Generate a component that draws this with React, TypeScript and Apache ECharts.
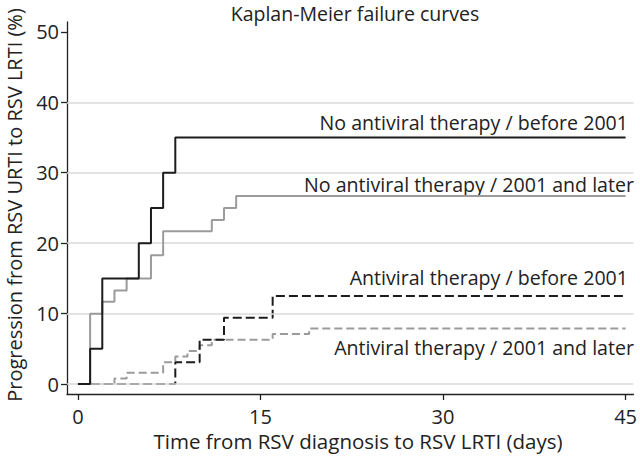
import React, { useEffect, useRef } from "react";
import * as echarts from "echarts";

// Kaplan-Meier step data (days, cumulative % progressed)
const noAvBeforeDays = [0, 1, 2, 5, 6, 7, 8, 45];
const noAvBeforePct = [0, 5, 15, 20, 25, 30, 35, 35];

const noAvLaterDays = [0, 1, 2, 3, 4, 6, 7, 11, 12, 13, 45];
const noAvLaterPct = [0, 10, 11.7, 13.3, 15, 18.3, 21.7, 23.3, 25, 26.7, 26.7];

const avBeforeDays = [0, 8, 10, 12, 16, 45];
const avBeforePct = [0, 3.1, 6.3, 9.4, 12.5, 12.5];

const avLaterDays = [0, 3, 4, 7, 8, 9, 10, 11, 16, 19, 45];
const avLaterPct = [0, 0.8, 1.6, 3.1, 3.9, 4.7, 5.5, 6.3, 7.1, 7.9, 7.9];

const xTicks = [0, 15, 30, 45];
const yTicks = [0, 10, 20, 30, 40, 50];
const gridValues = [0, 10, 20, 30, 40];

const seriesLabels = [
  "No antiviral therapy / before 2001",
  "No antiviral therapy / 2001 and later",
  "Antiviral therapy / before 2001",
  "Antiviral therapy / 2001 and later",
];

const titleText = "Kaplan-Meier failure curves";
const xTitle = "Time from RSV diagnosis to RSV LRTI (days)";
const yTitle = "Progression from RSV URTI to RSV LRTI (%)";

const FONT = "Open Sans";
const TXT = "#222222";

function zip(xs: number[], ys: number[]) {
  return xs.map((x, i) => [x, ys[i]]);
}

export default function App() {
  const ref = useRef<HTMLDivElement>(null);
  useEffect(() => {
    if (!ref.current) return;
    const chart = echarts.init(ref.current, undefined, { renderer: "svg" });
    const black = "#1c1c1c";
    const gray = "#9b9b9b";
    const lab = (text: string, x: number, y: number) => ({
      type: "text",
      x,
      y,
      style: { text, fontSize: 19.6, fontFamily: FONT, fill: TXT, align: "right", verticalAlign: "middle" },
    });
    const option: any = {
      animation: false,
      backgroundColor: "#ffffff",
      textStyle: { fontFamily: FONT },
      grid: { left: 67, right: 4, top: 22, bottom: 69, containLabel: false },
      xAxis: {
        type: "value",
        min: -0.9,
        max: 45.65,
        axisLine: { show: true, onZero: false, lineStyle: { color: "#222", width: 1.3 } },
        axisTick: { show: true, length: 6, customValues: xTicks, lineStyle: { color: "#222", width: 1.3 } },
        axisLabel: { customValues: xTicks, fontSize: 20, color: TXT, fontFamily: FONT, margin: 12 },
        splitLine: { show: false },
      },
      yAxis: {
        type: "value",
        min: -1.41,
        max: 51.4,
        axisLine: { show: true, onZero: false, lineStyle: { color: "#222", width: 1.3 } },
        axisTick: { show: true, length: 6, customValues: yTicks, lineStyle: { color: "#222", width: 1.3 } },
        axisLabel: { customValues: yTicks, fontSize: 20, color: TXT, fontFamily: FONT, margin: 8 },
        splitLine: { show: false },
      },
      series: [
        {
          type: "line",
          z: 1,
          data: [[0, 0]],
          symbol: "none",
          lineStyle: { opacity: 0 },
          silent: true,
          markLine: {
            silent: true,
            symbol: "none",
            label: { show: false },
            lineStyle: { color: "#dadada", width: 1.5, type: "solid" },
            data: gridValues.map((v) => ({ yAxis: v })),
          },
        },
        {
          type: "line",
          step: "end",
          z: 3,
          data: zip(avLaterDays, avLaterPct),
          symbol: "none",
          lineStyle: { color: gray, width: 2, type: [8, 4] },
        },
        {
          type: "line",
          step: "end",
          z: 4,
          data: zip(avBeforeDays, avBeforePct),
          symbol: "none",
          lineStyle: { color: black, width: 2, type: [9, 4] },
        },
        {
          type: "line",
          step: "end",
          z: 5,
          data: zip(noAvLaterDays, noAvLaterPct),
          symbol: "none",
          lineStyle: { color: gray, width: 2 },
        },
        {
          type: "line",
          step: "end",
          z: 6,
          data: zip(noAvBeforeDays, noAvBeforePct),
          symbol: "none",
          lineStyle: { color: black, width: 2 },
        },
      ],
      graphic: [
        { type: "text", x: 355, y: 13, style: { text: titleText, fontSize: 19.5, fontFamily: FONT, fill: TXT, align: "center", verticalAlign: "middle" } },
        { type: "text", x: 358, y: 441, style: { text: xTitle, fontSize: 20.5, fontFamily: FONT, fill: TXT, align: "center", verticalAlign: "middle" } },
        { type: "text", x: 14, y: 205, rotation: Math.PI / 2, style: { text: yTitle, fontSize: 20, fontFamily: FONT, fill: TXT, align: "center", verticalAlign: "middle" } },
        lab(seriesLabels[0], 628, 122),
        lab(seriesLabels[1], 634, 184),
        lab(seriesLabels[2], 628, 277),
        lab(seriesLabels[3], 634, 347),
      ],
    };
    chart.setOption(option);
    return () => chart.dispose();
  }, []);
  return (
    <div
      ref={ref}
      style={{ position: "absolute", left: 0, top: 0, width: 640, height: 463 }}
    />
  );
}
